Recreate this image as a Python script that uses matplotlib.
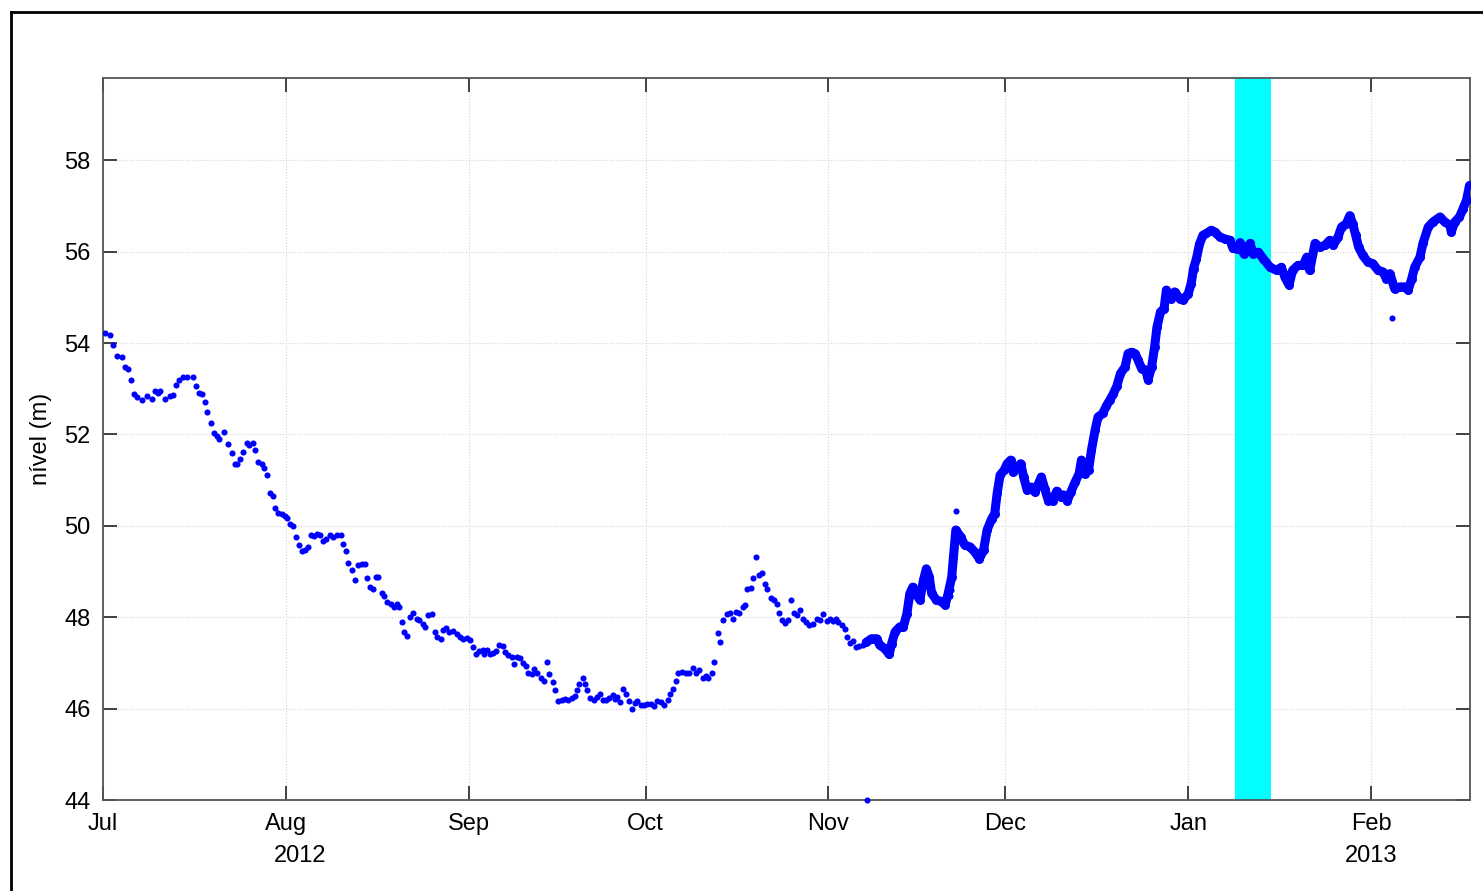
#!/usr/bin/env python3
"""
Nível (m) de jul/2012 a fev/2013, com a faixa de janeiro destacada em ciano.
Salva o gráfico em out.png.
"""

import numpy as np
import pandas as pd
import matplotlib
matplotlib.use('Agg')
import matplotlib.pyplot as plt
import matplotlib.dates as mdates
from matplotlib.lines import Line2D

ORIGEM = pd.Timestamp('2012-07-01')

# ---------- dados (dias desde 01/07/2012, nível em m) ----------
# trecho esparso (leituras ~2x por dia)
dias_esparso = [
    0.34, 1.19, 1.75, 2.32, 3.17, 3.73, 4.29, 4.69, 5.26, 5.71, 6.56, 7.41, 8.26, 8.82,
    9.38, 9.66, 10.51, 11.36, 11.80, 12.38, 12.94, 13.62, 14.30, 15.20, 15.77, 16.33,
    16.73, 17.29, 17.69, 18.26, 18.82, 19.38, 19.72, 20.52, 21.25, 21.82, 22.38, 22.77,
    23.23, 23.79, 24.36, 24.80, 25.38, 25.77, 26.33, 26.90, 27.30, 27.75, 28.31, 28.77,
    29.16, 29.73, 30.29, 30.86, 31.25, 31.71, 32.27, 32.72, 33.28, 33.69, 34.25, 34.71,
    35.22, 35.77, 36.34, 36.79, 37.25, 37.81, 38.49, 39.05, 39.73, 40.30, 40.64, 41.20,
    41.60, 42.16, 42.73, 43.29, 43.86, 44.42, 44.71, 45.27, 45.83, 46.29, 46.68, 47.25,
    47.70, 48.20, 48.78, 49.34, 49.80, 50.24, 50.65, 51.04, 51.60, 52.05, 52.62, 53.19,
    53.63, 54.21, 54.60, 55.15, 55.73, 56.29, 56.68, 57.26, 57.70, 58.16, 58.72, 59.29,
    59.97, 60.53, 61.09, 61.66, 62.22, 62.68, 63.24, 63.80, 64.37, 64.60, 65.16, 65.62,
    66.18, 66.63, 67.20, 67.77, 68.16, 68.72, 69.29, 69.68, 70.14, 70.70, 71.26, 71.72,
    72.11, 72.68, 73.07, 73.53, 74.20, 74.77, 75.22, 75.67, 76.24, 76.63, 77.20, 77.76,
    78.33, 78.89, 79.46, 80.02, 80.42, 80.76, 81.33, 81.72, 82.11, 82.57, 83.25, 83.70,
    84.26, 84.72, 85.28, 85.84, 86.42, 86.81, 87.20, 87.66, 88.10, 88.66, 89.23, 89.63,
    90.20, 90.59, 91.15, 91.72, 92.28, 92.85, 93.41, 93.98, 94.55, 95.11, 95.84, 96.14,
    96.59, 97.15, 97.54, 98.10, 98.84, 99.40, 99.97, 100.53, 101.10, 101.66, 102.23,
    102.62, 103.20, 103.59, 104.32, 104.61, 105.17, 105.74, 106.30, 106.76, 107.32,
    107.88, 108.46, 108.85, 109.24, 109.82, 110.26, 110.72, 111.28, 111.68, 112.24,
    112.63, 113.21, 113.77, 114.33, 114.67, 115.08, 115.63, 116.20, 116.60, 117.16,
    117.60, 118.17, 118.63, 119.19, 119.75, 120.32, 121.00, 121.56, 122.12, 122.70,
    123.26, 123.82, 124.28, 124.67, 125.24, 125.80, 126.19, 126.65, 127.21, 127.67,
    128.23, 128.80,
]
nivel_esparso = [
    54.21, 54.17, 53.95, 53.71, 53.70, 53.48, 53.44, 53.19, 52.88, 52.82, 52.75, 52.84,
    52.77, 52.95, 52.90, 52.95, 52.78, 52.84, 52.86, 53.08, 53.19, 53.26, 53.26, 53.26,
    53.06, 52.91, 52.89, 52.71, 52.49, 52.25, 52.04, 51.96, 51.91, 52.05, 51.80, 51.59,
    51.35, 51.35, 51.47, 51.62, 51.81, 51.76, 51.81, 51.66, 51.40, 51.35, 51.27, 51.11,
    50.71, 50.65, 50.38, 50.28, 50.25, 50.21, 50.18, 50.04, 49.99, 49.76, 49.58, 49.45,
    49.47, 49.54, 49.80, 49.78, 49.83, 49.80, 49.67, 49.72, 49.80, 49.76, 49.80, 49.81,
    49.60, 49.45, 49.19, 49.03, 48.82, 49.14, 49.16, 49.17, 48.85, 48.66, 48.61, 48.87,
    48.88, 48.53, 48.46, 48.33, 48.30, 48.23, 48.30, 48.23, 47.90, 47.68, 47.59, 48.01,
    48.09, 47.97, 47.95, 47.86, 47.79, 48.05, 48.07, 47.68, 47.57, 47.53, 47.72, 47.77,
    47.68, 47.70, 47.64, 47.57, 47.53, 47.55, 47.51, 47.34, 47.20, 47.26, 47.28, 47.19,
    47.29, 47.20, 47.22, 47.26, 47.39, 47.37, 47.24, 47.17, 47.13, 46.97, 47.12, 47.10,
    46.99, 46.93, 46.78, 46.75, 46.86, 46.78, 46.66, 46.60, 47.02, 46.75, 46.58, 46.41,
    46.17, 46.20, 46.22, 46.20, 46.24, 46.28, 46.41, 46.54, 46.68, 46.54, 46.41, 46.24,
    46.19, 46.26, 46.33, 46.20, 46.20, 46.24, 46.30, 46.22, 46.26, 46.15, 46.42, 46.32,
    46.17, 46.00, 46.12, 46.17, 46.08, 46.08, 46.10, 46.11, 46.06, 46.17, 46.15, 46.08,
    46.20, 46.33, 46.42, 46.61, 46.77, 46.80, 46.78, 46.78, 46.88, 46.78, 46.85, 46.68,
    46.71, 46.68, 46.77, 47.02, 47.66, 47.46, 47.94, 48.08, 48.09, 47.97, 48.11, 48.09,
    48.23, 48.27, 48.61, 48.63, 48.85, 49.31, 48.92, 48.97, 48.73, 48.61, 48.43, 48.38,
    48.29, 48.09, 47.95, 47.87, 47.94, 48.38, 48.09, 48.05, 48.16, 47.97, 47.90, 47.83,
    47.86, 47.97, 47.94, 48.07, 47.92, 47.97, 47.92, 47.97, 47.90, 47.83, 47.75, 47.57,
    47.44, 47.48, 47.34, 47.37, 47.39,
]

# trecho denso (leituras horárias, aparecem como faixa contínua)
dias_denso = [
    129.4, 130.3, 131.2, 131.7, 132.6, 133.3, 133.7, 134.3, 135.1, 135.7, 136.3, 136.8,
    137.3, 137.8, 138.5, 139.1, 139.6, 140.1, 140.5, 141.3, 142.2, 142.8, 143.3, 143.9,
    144.2, 144.6, 145.4, 146.1, 147.0, 147.8, 148.6, 149.3, 149.9, 150.7, 151.2, 151.6,
    152.1, 152.8, 153.3, 153.9, 154.3, 155.0, 155.6, 156.1, 156.7, 157.4, 158.0, 158.6,
    159.1, 159.7, 160.3, 161.0, 161.7, 162.4, 162.8, 163.5, 164.1, 164.8, 165.5, 165.9,
    166.5, 167.1, 167.6, 168.2, 168.7, 169.5, 170.1, 170.7, 171.3, 171.9, 172.5, 173.3,
    173.8, 174.4, 175.0, 175.5, 176.1, 176.8, 177.2, 177.8, 178.3, 178.7, 179.3, 179.9,
    180.3, 181.0, 181.7, 182.6, 183.2, 184.0, 184.5, 184.9, 185.4, 185.9, 186.5, 187.1,
    187.9, 188.5, 189.4, 190.2, 191.1, 191.6, 192.5, 192.8, 193.4, 194.5, 195.0, 195.9,
    196.7, 197.9, 199.0, 199.8, 200.4, 201.1, 201.7, 202.6, 203.5, 204.1, 204.6, 205.5,
    206.3, 207.2, 208.0, 208.6, 209.4, 210.0, 210.8, 211.4, 211.9, 212.4, 212.9, 213.6,
    214.5, 215.3, 216.2, 217.0, 217.6, 218.2, 219.0, 219.9, 220.7, 221.3, 221.9, 222.4,
    223.3, 223.8, 224.7, 225.5, 226.7, 227.5, 228.4, 228.6, 229.2, 230.0, 230.6, 231.2,
    231.7,
]
nivel_denso = [
    47.45, 47.53, 47.53, 47.39, 47.31, 47.19, 47.42, 47.68, 47.79, 47.79, 48.08, 48.52,
    48.66, 48.52, 48.38, 48.81, 49.06, 48.88, 48.52, 48.38, 48.34, 48.27, 48.52, 48.88,
    49.32, 49.91, 49.76, 49.58, 49.54, 49.43, 49.28, 49.47, 49.91, 50.16, 50.27, 50.71,
    51.11, 51.22, 51.36, 51.44, 51.18, 51.29, 51.36, 51.07, 50.78, 50.85, 50.74, 50.92,
    51.07, 50.80, 50.55, 50.55, 50.76, 50.63, 50.68, 50.55, 50.74, 50.95, 51.14, 51.44,
    51.14, 51.22, 51.66, 52.09, 52.38, 52.46, 52.62, 52.75, 52.89, 53.06, 53.33, 53.48,
    53.77, 53.80, 53.77, 53.63, 53.44, 53.41, 53.20, 53.48, 53.91, 54.35, 54.68, 54.75,
    55.16, 54.97, 55.12, 54.97, 54.95, 55.08, 55.30, 55.63, 55.85, 56.16, 56.36, 56.40,
    56.47, 56.43, 56.32, 56.28, 56.25, 56.07, 56.05, 56.20, 55.96, 56.18, 55.96, 55.99,
    55.85, 55.66, 55.59, 55.66, 55.44, 55.27, 55.59, 55.70, 55.70, 55.88, 55.59, 56.18,
    56.10, 56.14, 56.25, 56.14, 56.32, 56.54, 56.61, 56.79, 56.61, 56.36, 56.10, 55.92,
    55.77, 55.74, 55.59, 55.56, 55.41, 55.52, 55.19, 55.23, 55.23, 55.16, 55.41, 55.66,
    55.88, 56.18, 56.54, 56.65, 56.76, 56.65, 56.58, 56.43, 56.65, 56.76, 56.94, 57.13,
    57.45,
]

# pontos isolados (leituras espúrias)
dias_isolados = [129.5, 143.6, 143.8, 144.6, 218.5]
nivel_isolados = [44.0, 48.46, 48.59, 50.33, 54.55]

# faixa destacada (início/fim) e limite do eixo x
faixa = ['2013-01-09', '2013-01-15']
fim_eixo = 231.8


def para_datas(dias):
    return ORIGEM + pd.to_timedelta(np.asarray(dias), unit='D')


def main():
    plt.rcParams['font.family'] = ['Liberation Sans', 'DejaVu Sans']

    fig = plt.figure(figsize=(14.83, 8.91), dpi=100)
    ax = fig.add_axes([0.0695, 0.1021, 0.9218, 0.8103])

    # moldura da figura (topo e lado esquerdo visíveis)
    fig.add_artist(Line2D([0.0074, 1.0], [0.9865, 0.9865], color='black', lw=2,
                          transform=fig.transFigure))
    fig.add_artist(Line2D([0.0074, 0.0074], [0.0, 0.9865], color='black', lw=2,
                          transform=fig.transFigure))

    # faixa ciano
    ax.axvspan(pd.Timestamp(faixa[0]), pd.Timestamp(faixa[1]), color='#00FFFF',
               lw=0, zorder=1)

    azul = '#0000FF'
    ax.plot(para_datas(dias_esparso), nivel_esparso, 'o', color=azul, ms=4.4,
            mew=0, zorder=3)
    ax.plot(para_datas(dias_denso), nivel_denso, '-', color=azul, lw=6.5,
            solid_joinstyle='round', solid_capstyle='round', zorder=3)
    ax.plot(para_datas(dias_denso), nivel_denso, 'o', color=azul, ms=6.5,
            mew=0, zorder=3)
    ax.plot(para_datas(dias_isolados), nivel_isolados, 'o', color=azul, ms=4.4,
            mew=0, zorder=4, clip_on=False)

    # eixos
    ax.set_xlim(ORIGEM, ORIGEM + pd.Timedelta(days=fim_eixo))
    ax.set_ylim(44, 59.8)
    ax.set_yticks(np.arange(44, 59, 2))
    ax.xaxis.set_major_locator(mdates.MonthLocator())
    ax.xaxis.set_major_formatter(mdates.DateFormatter('%b'))

    ax.grid(True, linestyle=':', color='#d4d4d4', lw=0.8)
    ax.set_axisbelow(True)
    for sp in ax.spines.values():
        sp.set_color('#555555')
        sp.set_linewidth(1.3)
    ax.tick_params(direction='in', length=10, width=1.3, color='#333333',
                   top=True, right=True, labelsize=17, pad=9)

    ax.set_ylabel('nível (m)', fontsize=17)
    ax.yaxis.set_label_coords(-0.037, 0.5)

    # anos sob Aug e Feb
    ax.text(0.144, -0.078, '2012', transform=ax.transAxes, ha='center', va='center',
            fontsize=17)
    ax.text(0.9276, -0.078, '2013', transform=ax.transAxes, ha='center', va='center',
            fontsize=17)

    fig.savefig('out.png', dpi=100)


if __name__ == '__main__':
    main()
